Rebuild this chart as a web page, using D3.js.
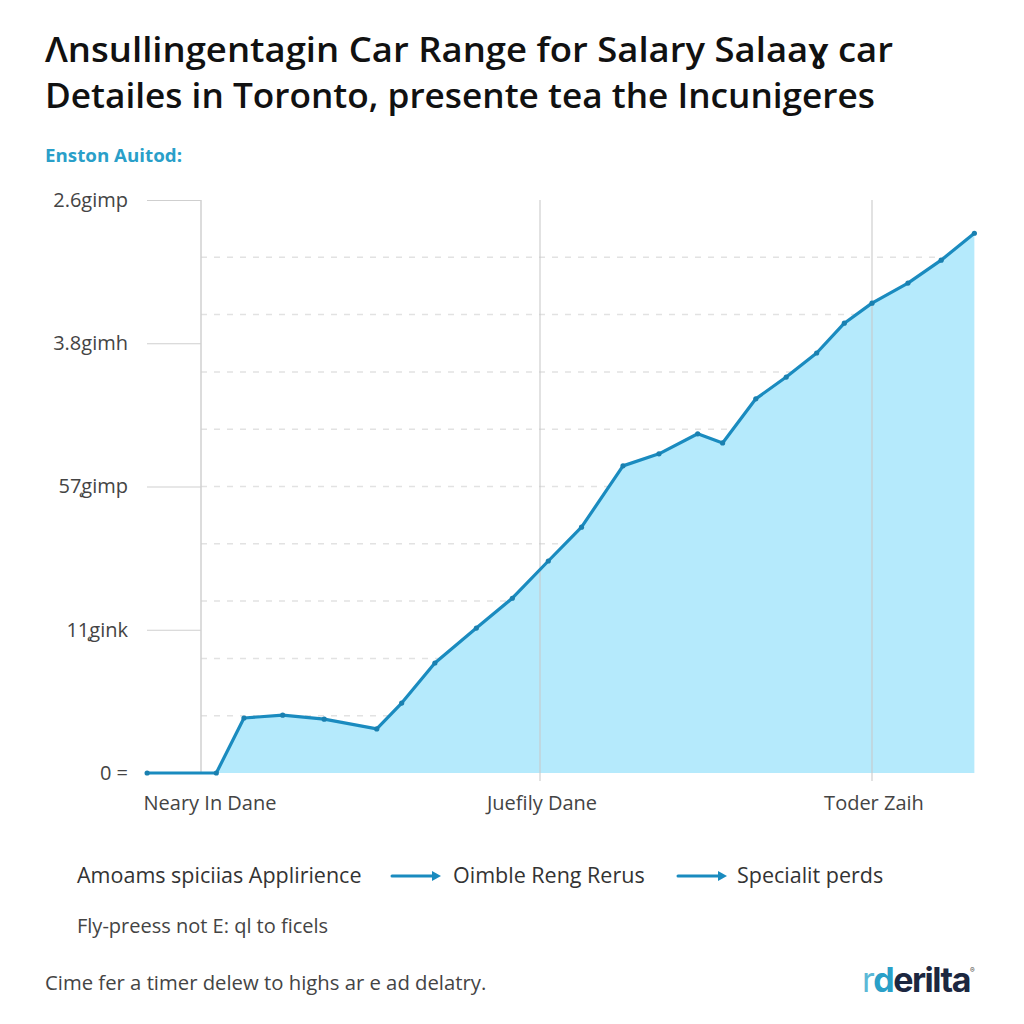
<!DOCTYPE html>
<html>
<head>
<meta charset="utf-8">
<script src="https://cdn.jsdelivr.net/npm/d3@7"></script>
<style>
  body { margin: 0; background: #fff; }
  svg { display: block; font-family: "Open Sans", sans-serif; }
</style>
</head>
<body>
<svg id="canvas" width="1024" height="1024"></svg>
<script>
// Values (x in months, y as a share of the top tick)
let months = [-2.2, 0.3, 1.3, 2.7, 4.2, 6.1, 7.0, 8.2, 9.7, 11.0, 12.3, 13.5, 15.0, 16.3, 17.7, 18.6, 19.8, 20.9, 22.0, 23.0, 24.0, 25.3, 26.5, 27.7];
let values = [0, 0, 9.6, 10.1, 9.4, 7.7, 12.2, 19.2, 25.3, 30.5, 37.0, 42.9, 53.6, 55.7, 59.2, 57.6, 65.3, 69.1, 73.3, 78.5, 82.0, 85.5, 89.5, 94.2];

let xTicks = [0, 12, 24];
let xTickLabels = ["Neary In Dane", "Juefily Dane", "Toder Zaih"];
let yTicks = [0, 25, 50, 75, 100];
let yTickLabels = ["0 =", "11\u0328gink", "57\u0328gimp", "3.8gimh", "2.6gimp"];
let gridSteps = [10, 20, 30, 40, 50, 60, 70, 80, 90];

let legendItems = ["Amoams spiciias Applirience", "Oimble Reng Rerus", "Specialit perds"];

let canvas = d3.select('#canvas');

let x = d3.scaleLinear().domain([0, 24]).range([208, 872]);
let y = d3.scaleLinear().domain([0, 100]).range([773, 200]);

let plotLeft = 201, plotRight = 976;

// title
let title = canvas.append("g")
    .attr("font-weight", "600")
    .attr("font-size", 34)
    .attr("fill", "#111");
title.append("text").attr("x", 45).attr("y", 62)
    .attr("textLength", 848).attr("lengthAdjust", "spacingAndGlyphs")
    .text("\u039bnsullingentagin Car Range for Salary Salaa\u0263 car");
title.append("text").attr("x", 45).attr("y", 108)
    .attr("textLength", 830).attr("lengthAdjust", "spacingAndGlyphs")
    .text("Detailes in Toronto, presente tea the Incunigeres");

canvas.append("text")
    .attr("x", 45).attr("y", 162)
    .attr("font-size", 17).attr("font-weight", "700")
    .attr("textLength", 137).attr("lengthAdjust", "spacingAndGlyphs")
    .attr("fill", "#2a9fc9")
    .text("Enston Auitod:");

// dashed horizontal grid
canvas.append("g").selectAll("line")
    .data(gridSteps)
    .enter()
    .append("line")
    .attr("x1", plotLeft).attr("x2", plotRight)
    .attr("y1", d => y(d)).attr("y2", d => y(d))
    .attr("stroke", "#e2e2e2")
    .attr("stroke-width", 1.5)
    .attr("stroke-dasharray", "6,7");

// y axis: tick lines on the left, labels right aligned
let yAxis = d3.axisLeft(y)
    .tickValues(yTicks)
    .tickSize(54)
    .tickPadding(19)
    .tickFormat((d, i) => yTickLabels[i]);

let yg = canvas.append("g")
    .attr("transform", `translate(${plotLeft},0)`)
    .call(yAxis);
yg.select(".domain").remove();
yg.selectAll(".tick line").attr("stroke", "#cfcfcf").attr("stroke-width", 1.2);
yg.selectAll(".tick text")
    .attr("font-size", 20)
    .attr("fill", "#444")
    .attr("font-family", "Open Sans, sans-serif");

// area under the rising part
canvas.append("path")
    .datum(values.slice(1))
    .attr("d", d3.area()
        .x((d, i) => x(months[i + 1]))
        .y0(y(0))
        .y1(d => y(d)))
    .attr("fill", "#b5eafc");

// vertical lines
canvas.append("line")
    .attr("x1", plotLeft).attr("x2", plotLeft)
    .attr("y1", y(100)).attr("y2", y(0))
    .attr("stroke", "#d0d0d0").attr("stroke-width", 1.5);

canvas.append("g").selectAll("line")
    .data(xTicks.slice(1))
    .enter()
    .append("line")
    .attr("x1", d => x(d)).attr("x2", d => x(d))
    .attr("y1", y(100)).attr("y2", y(0) + 8)
    .attr("stroke", "#c8c8c8")
    .attr("stroke-opacity", 0.7)
    .attr("stroke-width", 1.5);

let line = d3.line()
    .x((d, i) => x(months[i]))
    .y(d => y(d));

canvas.append("path")
    .datum(values)
    .attr("d", line)
    .attr("fill", "none")
    .attr("stroke", "#1a8bbf")
    .attr("stroke-width", 3.2)
    .attr("stroke-linejoin", "round")
    .attr("stroke-linecap", "round");

canvas.append("g").selectAll("circle")
    .data(values)
    .enter()
    .append("circle")
    .attr("cx", (d, i) => x(months[i]))
    .attr("cy", d => y(d))
    .attr("r", 2.6)
    .attr("fill", "#1a80b0");

// x labels
canvas.append("g").selectAll("text")
    .data(xTicks)
    .enter()
    .append("text")
    .attr("x", d => x(d) + 2)
    .attr("y", 810)
    .attr("text-anchor", "middle")
    .attr("font-size", 20)
    .attr("fill", "#444")
    .text((d, i) => xTickLabels[i]);

// legend row with arrows
let legendX = [77, 453, 737];
let arrowX = [392, 678];
canvas.append("g").selectAll("text")
    .data(legendItems)
    .enter()
    .append("text")
    .attr("x", (d, i) => legendX[i])
    .attr("y", 883)
    .attr("font-size", 21.5)
    .attr("fill", "#333")
    .text(d => d);

let arrows = canvas.append("g").selectAll("g")
    .data(arrowX)
    .enter()
    .append("g")
    .attr("transform", d => `translate(${d},876)`);
arrows.append("line")
    .attr("x1", 0).attr("x2", 42)
    .attr("y1", 0).attr("y2", 0)
    .attr("stroke", "#1a8bbf").attr("stroke-width", 3)
    .attr("stroke-linecap", "round");
arrows.append("path")
    .attr("d", "M40,-5 L49,0 L40,5 Z")
    .attr("fill", "#1a8bbf");

canvas.append("text")
    .attr("x", 77).attr("y", 933)
    .attr("font-size", 20).attr("fill", "#444")
    .text("Fly-preess not E: ql to ficels");

canvas.append("text")
    .attr("x", 45).attr("y", 990)
    .attr("font-size", 20.3).attr("fill", "#444")
    .text("Cime fer a timer delew to highs ar e ad delatry.");

// logo
let logo = canvas.append("text")
    .attr("x", 862).attr("y", 992)
    .attr("font-size", 34).attr("font-weight", "700")
    .attr("letter-spacing", "-1.5")
    .attr("font-family", "Inter, sans-serif");
logo.append("tspan").attr("fill", "#5bb8d6").attr("font-weight", "400").text("r");
logo.append("tspan").attr("fill", "#2aa0c8").text("d");
logo.append("tspan").attr("fill", "#1c2740").text("erilta");
logo.append("tspan").attr("fill", "#555").attr("font-size", 7).attr("dy", -19).text("\u00ae");
</script>
</body>
</html>
